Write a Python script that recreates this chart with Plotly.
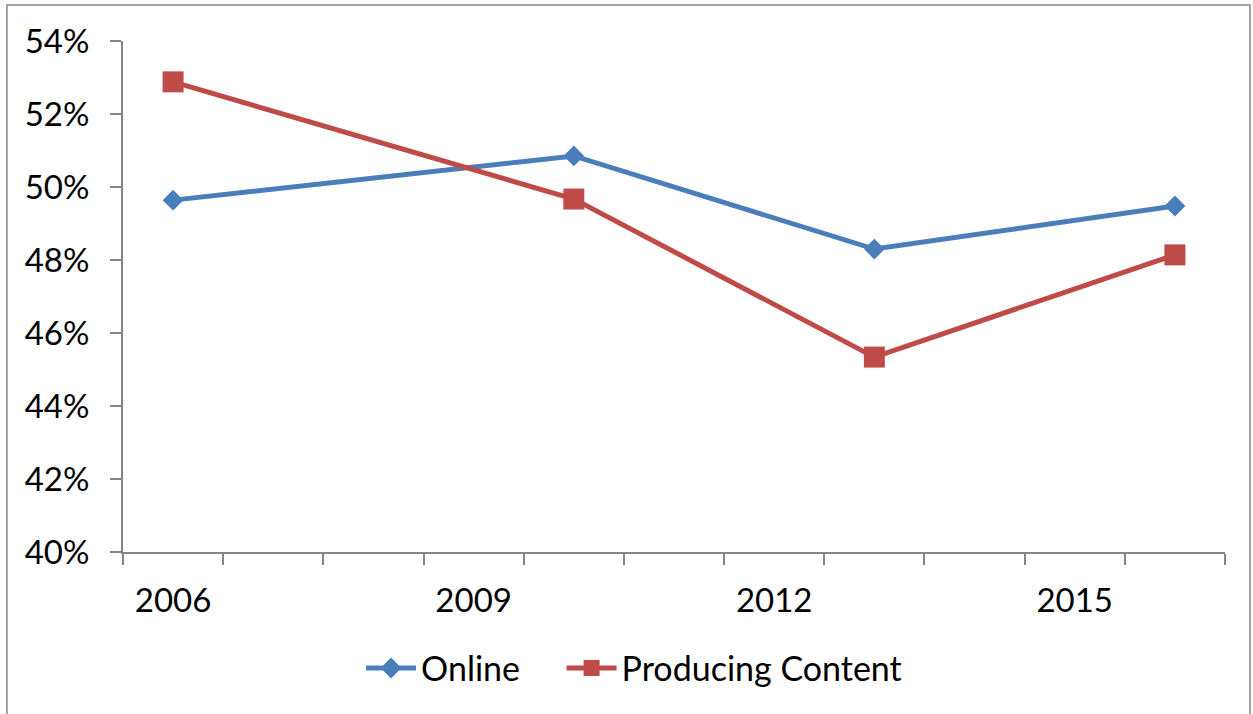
import plotly.graph_objects as go

# Survey years with a measurement, and the share for each series (in %)
years = [2006, 2010, 2013, 2016]
online = [49.64, 50.85, 48.30, 49.48]
producing_content = [52.88, 49.67, 45.34, 48.14]

# Labelled years along the category axis
x_tick_years = [2006, 2009, 2012, 2015]
y_ticks = [40, 42, 44, 46, 48, 50, 52, 54]
y_tick_labels = [f"{v}%" for v in y_ticks]

BLUE = "#4A7EBB"
RED = "#BE4B48"
AXIS = "#868686"
FONT = "Lato, 'Open Sans', sans-serif"

fig = go.Figure()
fig.add_trace(go.Scatter(
    x=years, y=online, name="Online", mode="lines+markers",
    line=dict(color=BLUE, width=5),
    marker=dict(symbol="diamond", size=16, color=BLUE),
    legend="legend",
))
fig.add_trace(go.Scatter(
    x=years, y=producing_content, name="Producing Content", mode="lines+markers",
    line=dict(color=RED, width=5),
    marker=dict(symbol="square", size=21, color=RED),
    legend="legend2",
))

legend_style = dict(orientation="h", xanchor="left", y=-0.171, yanchor="top",
                    font=dict(size=34), itemwidth=50, bgcolor="rgba(0,0,0,0)")

fig.update_layout(
    width=1253, height=714,
    margin=dict(l=123, r=28, t=41, b=162),
    paper_bgcolor="white", plot_bgcolor="white",
    font=dict(family=FONT, size=33, color="black"),
    showlegend=True,
    legend=dict(x=0.216, **legend_style),
    legend2=dict(x=0.398, **legend_style),
    shapes=[dict(
        type="rect", xref="paper", yref="paper",
        x0=-0.1053, x1=1.0227, y0=-0.35, y1=1.0705,
        line=dict(color=AXIS, width=1.5), layer="below",
    )],
)

fig.update_xaxes(
    range=[2005.5, 2016.5],
    tickmode="array", tickvals=x_tick_years, ticktext=[str(y) for y in x_tick_years],
    ticks="", showgrid=False, zeroline=False,
    showline=True, linecolor=AXIS, linewidth=2,
    minor=dict(ticks="outside", tick0=2005.5, dtick=1, ticklen=11,
               tickcolor=AXIS, tickwidth=2, showgrid=False),
    ticklabelstandoff=18,
)
fig.update_yaxes(
    range=[40, 54],
    tickmode="array", tickvals=y_ticks, ticktext=y_tick_labels,
    ticks="outside", ticklen=11, tickcolor=AXIS, tickwidth=2,
    showgrid=False, zeroline=False,
    showline=True, linecolor=AXIS, linewidth=2,
    ticklabelstandoff=14,
)

fig.write_html("out.html")
